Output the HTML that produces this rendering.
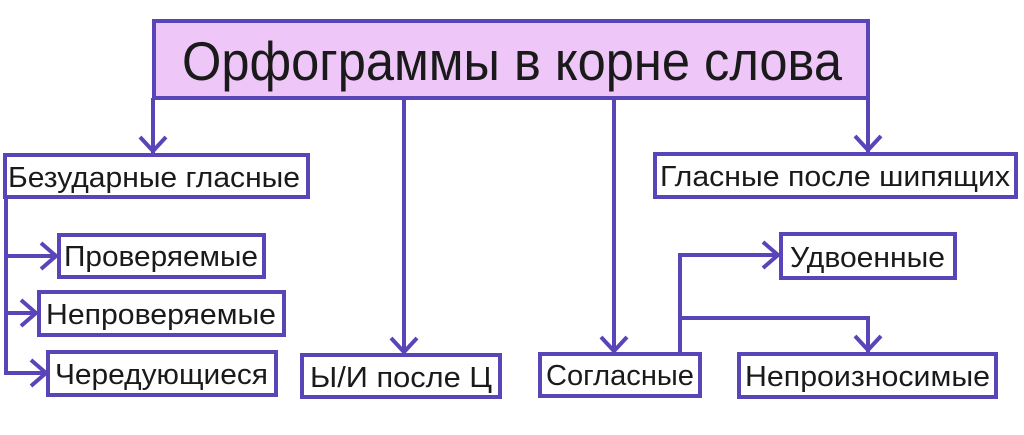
<!DOCTYPE html>
<html><head><meta charset="utf-8"><style>html,body{margin:0;padding:0;background:#fff}svg{display:block}</style></head>
<body>
<svg width="1024" height="435" viewBox="0 0 1024 435" xmlns="http://www.w3.org/2000/svg" font-family="Liberation Sans, DejaVu Sans, sans-serif" fill="#1a1a1a">
<g stroke="#5a45b8" stroke-width="4" fill="none">
<rect x="154" y="21" width="714" height="77" fill="#eec6f8"/>
<rect x="5" y="155" width="303" height="42" fill="#fff"/>
<rect x="59" y="235" width="205" height="42" fill="#fff"/>
<rect x="39" y="292" width="245" height="43" fill="#fff"/>
<rect x="48" y="352" width="228" height="43" fill="#fff"/>
<rect x="302" y="355" width="198" height="42" fill="#fff"/>
<rect x="540" y="354" width="160" height="42" fill="#fff"/>
<rect x="781" y="234" width="174" height="44" fill="#fff"/>
<rect x="739" y="354" width="257" height="43" fill="#fff"/>
<rect x="655" y="154" width="361" height="43" fill="#fff"/>
<path d="M153 98V153M140 137L153 151L166 137"/>
<path d="M404 98V354M391 338L404 352L417 338"/>
<path d="M614 98V353M601 337L614 351L627 337"/>
<path d="M868 98V152M855 136L868 150L881 136"/>
<path d="M6 197V373H47M6 313H37M6 256H57"/>
<path d="M41 243L56 256L41 269M21 300L36 313L21 326M31 360L46 373L31 386"/>
<path d="M680 353V255H778M763 242L778 255L763 268"/>
<path d="M680 318H868V352M855 336L868 350L881 336"/>
</g>
<text x="182" y="80" font-size="55" textLength="660" lengthAdjust="spacingAndGlyphs">Орфограммы в корне слова</text>
<g font-size="29">
<text x="8" y="187" textLength="292" lengthAdjust="spacingAndGlyphs">Безударные гласные</text>
<text x="64" y="266" textLength="194" lengthAdjust="spacingAndGlyphs">Проверяемые</text>
<text x="46" y="324" textLength="230" lengthAdjust="spacingAndGlyphs">Непроверяемые</text>
<text x="55" y="384" textLength="213" lengthAdjust="spacingAndGlyphs">Чередующиеся</text>
<text x="310" y="387" textLength="182" lengthAdjust="spacingAndGlyphs">Ы/И после Ц</text>
<text x="546" y="385" textLength="148" lengthAdjust="spacingAndGlyphs">Согласные</text>
<text x="790" y="267" textLength="155" lengthAdjust="spacingAndGlyphs">Удвоенные</text>
<text x="745" y="386" textLength="245" lengthAdjust="spacingAndGlyphs">Непроизносимые</text>
<text x="660" y="186" textLength="350" lengthAdjust="spacingAndGlyphs">Гласные после шипящих</text>
</g>
</svg>
</body></html>
